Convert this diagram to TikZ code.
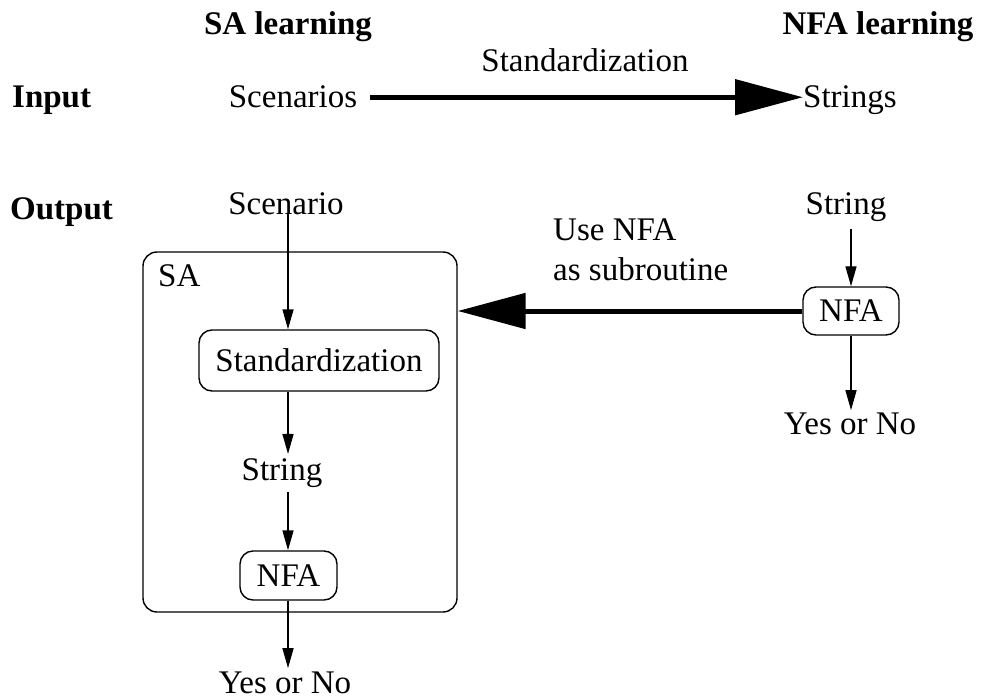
\documentclass[tikz,border=0pt]{standalone}
\usepackage{fontspec}
\setmainfont{Liberation Serif}
\usetikzlibrary{arrows.meta}

\tikzset{
  lbl/.style={inner sep=0pt, anchor=base},
  hdr/.style={lbl, font=\fontsize{33}{40}\selectfont\bfseries},
  rbox/.style={draw, line width=1.4pt, rounded corners=13pt, inner sep=0pt},
  thinarrow/.style={line width=1.4pt, -{Triangle[length=20pt,width=11pt]}},
  thickarrow/.style={line width=5pt, -{Triangle[length=68pt,width=35pt]}},
}

\begin{document}
\begin{tikzpicture}[x=1pt, y=-1pt, font=\fontsize{33}{40}\selectfont]
  \useasboundingbox (0,0) rectangle (981,700);

  % column headers
  \node[hdr] (hsa)  at (288,35) {SA learning};
  \node[hdr] (hnfa) at (878,35) {NFA learning};

  % input row
  \node[hdr, anchor=base west] (input) at (12,108) {Input};
  \node[lbl] (scens) at (293,108) {Scenarios};
  \node[lbl, anchor=base west] (strs) at (803,108) {Strings};
  \node[lbl] (stdlbl) at (585,72) {Standardization};
  \draw[thickarrow] ([xshift=13pt]scens.east) -- (scens.east -| strs.west);

  % output row
  \node[hdr, anchor=base west] (output) at (10,220) {Output};
  \coordinate (col) at (288,0);

  % SA side
  \node[lbl] (scen) at (286,215) {Scenario};
  \node[rbox, rounded corners=14pt, minimum width=314pt, minimum height=360pt] (sa) at (300,432) {};
  \node[lbl, anchor=base west] (salbl) at (158,287) {SA};
  \node[rbox, minimum width=240pt, minimum height=61pt] (stdbox) at (319,360.5) {Standardization};
  \node[lbl] (str1) at (282,480) {String};
  \node[rbox, minimum width=97pt, minimum height=49pt] (nfa1) at (288.5,575.5) {NFA};
  \node[lbl] (yn1) at (285,693) {Yes or No};

  \draw[thinarrow] ([yshift=2pt]scen.base -| col) -- (stdbox.north -| col);
  \draw[thinarrow] (stdbox.south -| col) -- ([yshift=4pt]str1.north -| col);
  \draw[thinarrow] ([yshift=-5pt]str1.south -| col) -- (nfa1.north -| col);
  \draw[thinarrow] (nfa1.south -| col) -- ([yshift=3pt]yn1.north -| col);

  % NFA side
  \node[lbl] (str2) at (846,215) {String};
  \node[rbox, minimum width=96pt, minimum height=48pt] (nfa2) at (851,311) {NFA};
  \node[lbl] (yn2) at (850,434) {Yes or No};
  \node[lbl, anchor=base west] (use1) at (553,241) {Use NFA};
  \node[lbl, anchor=base west] (use2) at (553,280) {as subroutine};

  \draw[thinarrow] ([yshift=-7pt]str2.south -| nfa2.north) -- (nfa2.north);
  \draw[thinarrow] (nfa2.south) -- ([yshift=2pt]yn2.north -| nfa2.south);
  \draw[thickarrow] (nfa2.west) -- (nfa2.west -| sa.east);
\end{tikzpicture}
\end{document}
